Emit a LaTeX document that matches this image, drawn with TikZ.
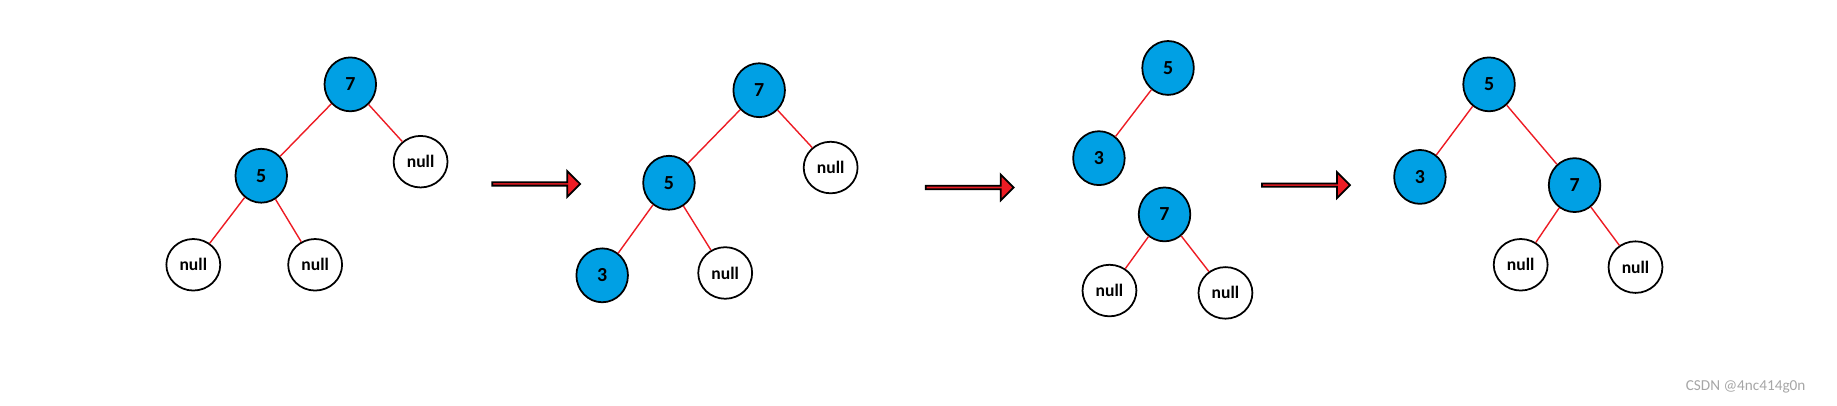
\documentclass[tikz,border=0pt]{standalone}
\usepackage{fontspec}
\setmainfont{Carlito}
\usetikzlibrary{shapes.geometric,shapes.arrows}
\definecolor{nodeblue}{RGB}{0,160,228}
\definecolor{edgered}{RGB}{237,28,36}

\begin{document}
\begin{tikzpicture}
        [x=1pt,y=-1pt,
        key/.style={draw=black,line width=1.5pt,shape=ellipse,fill=nodeblue,inner sep=0,minimum width=44pt,minimum height=46pt,font=\fontsize{17}{17}\selectfont\bfseries},
        nil/.style={draw=black,line width=1.5pt,shape=ellipse,fill=white,inner sep=0,minimum width=46pt,minimum height=44pt,font=\fontsize{15}{15}\selectfont\bfseries},
        pushto/.style={draw=black,line width=1.5pt,shape=single arrow,fill=edgered,inner sep=0,minimum height=75pt,minimum width=22pt,single arrow head extend=5pt},
        link/.style={draw=edgered,line width=1.2pt}]

        \useasboundingbox (0,0) rectangle (1568,346);

        % first tree
        \node[key] (a7) at (299, 72) {7};
        \node[key] (a5) at (223, 150) {5};
        \node[nil] (an1) at (359, 138) {null};
        \node[nil] (an2) at (165, 226) {null};
        \node[nil] (an3) at (269, 226) {null};
        \draw[link] (a7) -- (a5);
        \draw[link] (a7) -- (an1);
        \draw[link] (a5) -- (an2);
        \draw[link] (a5) -- (an3);

        \node[pushto] (s1) at (457, 157) {};

        % second tree
        \node[key] (b7) at (648, 77) {7};
        \node[key] (b5) at (571, 156) {5};
        \node[nil] (bn1) at (709, 143) {null};
        \node[key] (b3) at (514, 235) {3};
        \node[nil] (bn2) at (619, 233) {null};
        \draw[link] (b7) -- (b5);
        \draw[link] (b7) -- (bn1);
        \draw[link] (b5) -- (b3);
        \draw[link] (b5) -- (bn2);

        \node[pushto] (s2) at (827, 160) {};

        % third step
        \node[key] (c5) at (997, 58) {5};
        \node[key] (c3) at (938, 135) {3};
        \node[key] (c7) at (994, 183) {7};
        \node[nil] (cn1) at (947, 248) {null};
        \node[nil] (cn2) at (1046, 250) {null};
        \draw[link] (c5) -- (c3);
        \draw[link] (c7) -- (cn1);
        \draw[link] (c7) -- (cn2);

        \node[pushto] (s3) at (1114, 158) {};

        % result
        \node[key] (d5) at (1271, 72) {5};
        \node[key] (d3) at (1212, 151) {3};
        \node[key] (d7) at (1344, 158) {7};
        \node[nil] (dn1) at (1298, 226) {null};
        \node[nil] (dn2) at (1396, 228) {null};
        \draw[link] (d5) -- (d3);
        \draw[link] (d5) -- (d7);
        \draw[link] (d7) -- (dn1);
        \draw[link] (d7) -- (dn2);

        \node[text=gray!70,font=\fontsize{13}{13}\selectfont,inner sep=0] (mark) at (1490, 330) {CSDN @4nc414g0n};
      \end{tikzpicture}
\end{document}
